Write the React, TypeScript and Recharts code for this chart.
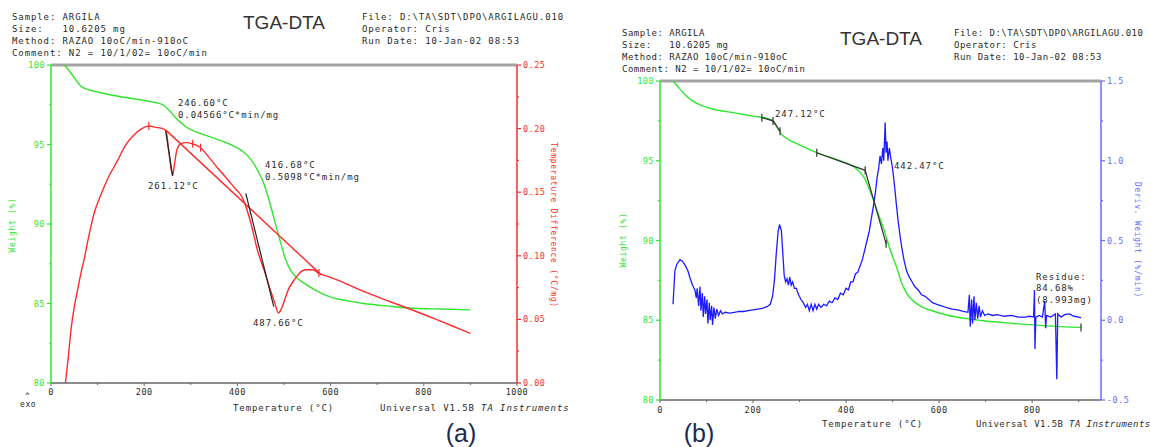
import React from 'react';
import { ComposedChart, Line, XAxis, YAxis, ReferenceLine } from 'recharts';

// ---------- panel (a): TGA (weight %) + DTA (°C/mg) ----------
const tgaA: number[][] = [
  [29, 100], [45, 99.4], [63, 98.7], [80, 98.45], [100, 98.3], [150, 98.0], [213, 97.7], [240, 97.5],
  [255, 97.1], [267, 96.7], [290, 96.1], [320, 95.7], [350, 95.4], [385, 95.0], [410, 94.6], [428, 94.1],
  [443, 93.4], [456, 92.6], [467, 91.6], [478, 90.4], [493, 88.8], [503, 87.8], [514, 87.1], [528, 86.6],
  [542, 86.3], [570, 85.8], [600, 85.4], [640, 85.15], [671, 85.0], [720, 84.85], [778, 84.7], [840, 84.65],
  [900, 84.6],
];
const dtaA: number[][] = [
  [31, 0.0], [37, 0.02], [43, 0.042], [50, 0.06], [57, 0.073], [64, 0.086], [71, 0.097], [82, 0.117],
  [93, 0.134], [107, 0.148], [121, 0.16], [143, 0.175], [160, 0.187], [178, 0.195], [195, 0.2], [210, 0.202],
  [225, 0.201], [240, 0.2], [247, 0.198], [252, 0.185], [257, 0.17], [261, 0.163], [265, 0.172], [270, 0.183],
  [278, 0.188], [290, 0.189], [304, 0.188], [321, 0.185], [340, 0.177], [360, 0.168], [379, 0.16], [395, 0.153],
  [407, 0.148], [414, 0.143], [428, 0.127], [443, 0.1045], [458, 0.088], [471, 0.073], [481, 0.062], [488, 0.055],
  [494, 0.058], [502, 0.066], [510, 0.074], [520, 0.08], [528, 0.084], [538, 0.088], [549, 0.089], [562, 0.089],
  [573, 0.0865], [600, 0.083], [640, 0.077], [671, 0.072], [720, 0.065], [771, 0.058], [820, 0.051], [860, 0.045],
  [900, 0.039],
];
const dtaBaseA: number[][] = [[246, 0.199], [580, 0.085]];
const onsetA1: number[][] = [[246, 0.198], [261, 0.163]];
const onsetA2: number[][] = [[418, 0.149], [478, 0.06]];
const dtaMarksA: number[][] = [[210, 0.202], [304, 0.188], [321, 0.185], [575, 0.0865]];

// ---------- panel (b): TGA (weight %) + DTG (%/min) ----------
const tgaB: number[][] = [
  [28, 100], [40, 99.6], [55, 99.1], [70, 98.75], [90, 98.45], [120, 98.2], [160, 98.0], [200, 97.8],
  [230, 97.65], [245, 97.45], [252, 97.1], [260, 96.7], [275, 96.35], [300, 96.0], [337, 95.5], [387, 95.0],
  [420, 94.55], [440, 93.9], [458, 92.6], [470, 91.6], [480, 90.8], [495, 89.4], [509, 88.3], [520, 87.3],
  [532, 86.6], [545, 86.2], [565, 85.8], [590, 85.55], [620, 85.3], [660, 85.1], [700, 84.95], [760, 84.8],
  [830, 84.65], [905, 84.55],
];
const dtgB: number[][] = [
  [28, 0.1], [32, 0.31], [36, 0.35], [43, 0.38], [48, 0.37], [53, 0.35], [60, 0.31], [65, 0.26], [70, 0.22],
  [75, 0.19], [78, 0.14], [80, 0.2], [83, 0.09], [86, 0.21], [88, 0.06], [91, 0.17], [93, 0.02], [96, 0.15],
  [98, 0.04], [101, 0.13], [103, -0.02], [106, 0.11], [108, 0.0], [111, 0.09], [113, -0.03], [116, 0.08],
  [119, 0.01], [122, 0.07], [126, 0.03], [130, 0.06], [134, 0.04], [140, 0.05], [150, 0.045], [160, 0.05],
  [170, 0.055], [180, 0.055], [190, 0.06], [200, 0.065], [210, 0.07], [220, 0.075], [230, 0.085], [237, 0.1],
  [242, 0.15], [246, 0.25], [250, 0.42], [254, 0.56], [257, 0.6], [261, 0.56], [264, 0.42], [267, 0.28],
  [270, 0.24], [273, 0.26], [276, 0.22], [279, 0.27], [282, 0.22], [285, 0.24], [289, 0.2], [293, 0.2],
  [298, 0.16], [303, 0.13], [308, 0.11], [313, 0.08], [317, 0.1], [321, 0.06], [325, 0.1], [329, 0.06],
  [333, 0.1], [337, 0.07], [341, 0.1], [346, 0.08], [352, 0.1], [358, 0.09], [364, 0.12], [370, 0.11],
  [376, 0.14], [382, 0.13], [388, 0.17], [394, 0.16], [400, 0.2], [405, 0.19], [410, 0.24], [415, 0.24],
  [420, 0.29], [425, 0.3], [430, 0.34], [435, 0.38], [440, 0.44], [445, 0.5], [450, 0.56], [455, 0.65],
  [459, 0.72], [463, 0.8], [467, 0.9], [470, 0.95], [473, 1.03], [476, 0.98], [479, 1.08], [481, 1.0],
  [483, 1.15], [484, 1.24], [486, 1.05], [488, 1.12], [490, 1.0], [493, 1.08], [496, 1.02], [499, 0.97],
  [502, 0.9], [505, 0.82], [508, 0.73], [512, 0.62], [516, 0.53], [520, 0.45], [525, 0.37], [530, 0.31],
  [536, 0.27], [542, 0.24], [548, 0.21], [555, 0.19], [562, 0.16], [570, 0.15], [578, 0.13], [586, 0.11],
  [595, 0.1], [605, 0.09], [615, 0.08], [628, 0.07], [640, 0.065], [652, 0.055], [662, 0.05], [665, 0.16],
  [667, -0.04], [670, 0.13], [672, -0.02], [675, 0.15], [677, 0.0], [680, 0.11], [683, 0.01], [686, 0.09],
  [689, 0.02], [693, 0.06], [698, 0.03], [705, 0.04], [715, 0.03], [725, 0.035], [740, 0.025], [755, 0.03],
  [770, 0.02], [785, 0.02], [795, 0.025], [803, 0.02], [805, 0.19], [806, -0.18], [808, 0.02], [815, 0.03],
  [822, 0.02], [827, 0.12], [829, -0.05], [831, 0.03], [840, 0.02], [850, 0.04], [853, -0.37], [855, 0.04],
  [862, 0.02], [870, 0.035], [880, 0.04], [890, 0.025], [900, 0.02], [905, 0.015],
];
const stepB1: number[][] = [[219, 97.7], [243, 97.5], [258, 96.85]];
const stepB2: number[][] = [[337, 95.5], [441, 94.4], [486, 89.8]];
const stepMarksB: number[][] = [[219, 97.7], [243, 97.5], [258, 96.85], [337, 95.5], [441, 94.4], [486, 89.8], [905, 84.55]];

// ticks
const xTicksA = [0, 100, 200, 300, 400, 500, 600, 700, 800, 900, 1000];
const xTicksB = [0, 100, 200, 300, 400, 500, 600, 700, 800, 900];
const weightTicks = [80, 82.5, 85, 87.5, 90, 92.5, 95, 97.5, 100];
const dtaTicks = [0, 0.025, 0.05, 0.075, 0.1, 0.125, 0.15, 0.175, 0.2, 0.225, 0.25];
const dtgTicks = [-0.5, -0.25, 0, 0.25, 0.5, 0.75, 1.0, 1.25, 1.5];

const headerLeft = ['Sample: ARGILA', 'Size:   10.6205 mg', 'Method: RAZAO 10oC/min-910oC', 'Comment: N2 = 10/1/02= 10oC/min'];
const headerRight = ['File: D:\\TA\\SDT\\DPO\\ARGILAGU.010', 'Operator: Cris', 'Run Date: 10-Jan-02 08:53'];

const GREEN = '#2fe62f';
const RED = '#ff2b2b';
const BLUE = '#1c1cff';
const BLUE_AXIS = '#6a6aff';
const INK = '#2a2a2a';
const MONO = '"DejaVu Sans Mono", monospace';

const pts = (rows: number[][], key: string) => rows.map(([t, v]) => ({ t, [key]: v }));

const isMajor = (v: number, step: number) => Math.abs(v / step - Math.round(v / step)) < 1e-6;

const makeYTick = (side: 'left' | 'right', color: string, step: number, digits: number) => (props: any) => {
  const { x, y, payload } = props;
  const v = payload.value as number;
  const major = isMajor(v, step);
  const dir = side === 'left' ? -1 : 1;
  return (
    <g>
      <line x1={x} x2={x + dir * (major ? 4 : 2)} y1={y} y2={y} stroke={color} strokeWidth={1.2} />
      {major && (
        <text x={x + dir * 6} y={y} dy={3} textAnchor={side === 'left' ? 'end' : 'start'} fill={color}
          fontSize={8.5} fontFamily={MONO} letterSpacing={0.5}>
          {digits > 0 ? v.toFixed(digits) : String(v)}
        </text>
      )}
    </g>
  );
};

const makeXTick = (dy: number) => (props: any) => {
  const { x, y, payload } = props;
  const v = payload.value as number;
  const major = isMajor(v, 200);
  return (
    <g>
      <line x1={x} x2={x} y1={y} y2={y + (major ? 3 : 2)} stroke="#666" strokeWidth={1} />
      {major && (
        <text x={x} y={y + dy} textAnchor="middle" fill={INK} fontSize={8.5} fontFamily={MONO} letterSpacing={0.5}>
          {v}
        </text>
      )}
    </g>
  );
};

const vMark = (color: string) => (p: any) => (
  <line key={`m-${p.index}`} x1={p.cx} x2={p.cx} y1={p.cy - 4} y2={p.cy + 4} stroke={color} strokeWidth={1.2} />
);

const Txt: React.FC<{ x: number; y: number; children: React.ReactNode; style?: React.CSSProperties }> = ({ x, y, children, style }) => (
  <div style={{ position: 'absolute', left: x, top: y - 6, fontFamily: MONO, fontSize: 9, letterSpacing: 0.9, lineHeight: '12px', whiteSpace: 'pre', color: INK, ...style }}>
    {children}
  </div>
);

const VTxt: React.FC<{ x: number; y: number; rot: number; color: string; children: React.ReactNode }> = ({ x, y, rot, color, children }) => (
  <div style={{ position: 'absolute', left: x, top: y, transform: `translate(-50%, -50%) rotate(${rot}deg)`, fontFamily: MONO, fontSize: 8, letterSpacing: 0.7, whiteSpace: 'pre', color }}>
    {children}
  </div>
);

const Header: React.FC<{ sx: number; tx: number; fx: number; dy: number; ls: number }> = ({ sx, tx, fx, dy, ls }) => (
  <>
    {headerLeft.map((s, i) => (
      <Txt key={s} x={sx} y={17 + dy + i * 12} style={{ letterSpacing: ls }}>{s}</Txt>
    ))}
    <div style={{ position: 'absolute', left: tx, top: 12 + dy, fontFamily: '"Liberation Sans", Arial, sans-serif', fontSize: 19, color: '#333', whiteSpace: 'pre' }}>TGA-DTA</div>
    {headerRight.map((s, i) => (
      <Txt key={s} x={fx} y={17 + dy + i * 12} style={{ letterSpacing: ls }}>{s}</Txt>
    ))}
  </>
);

const Footer: React.FC<{ cx: number; y: number; ux: number; ls: number }> = ({ cx, y, ux, ls }) => (
  <>
    <Txt x={cx - 50} y={y}>Temperature (°C)</Txt>
    <Txt x={ux} y={y} style={{ letterSpacing: ls }}>
      Universal V1.5B <i>TA Instruments</i>
    </Txt>
  </>
);

const App: React.FC = () => {
  return (
    <div style={{ position: 'absolute', left: 0, top: 0, width: 1151, height: 447, background: '#fff', overflow: 'hidden' }}>
      {/* panel (a) */}
      <div style={{ position: 'absolute', left: 0, top: 0 }}>
        <ComposedChart width={580} height={420} margin={{ top: 65, right: 23, bottom: 17, left: 21 }}>
          <XAxis dataKey="t" type="number" domain={[0, 1000]} ticks={xTicksA} interval={0} height={20}
            tickSize={0} tickMargin={0} tickLine={false} axisLine={{ stroke: '#666', strokeWidth: 1.5 }} tick={makeXTick(12)} />
          <YAxis yAxisId="w" orientation="left" type="number" domain={[80, 100]} ticks={weightTicks} interval={0} width={30}
            tickSize={0} tickMargin={0} tickLine={false} axisLine={{ stroke: GREEN, strokeWidth: 1.5 }} tick={makeYTick('left', GREEN, 5, 0)} />
          <YAxis yAxisId="d" orientation="right" type="number" domain={[0, 0.25]} ticks={dtaTicks} interval={0} width={40}
            tickSize={0} tickMargin={0} tickLine={false} axisLine={{ stroke: RED, strokeWidth: 1.5 }} tick={makeYTick('right', RED, 0.05, 2)} />
          <ReferenceLine yAxisId="w" y={100} stroke="#a3a3a3" strokeWidth={3} />
          <Line yAxisId="w" data={pts(tgaA, 'v')} dataKey="v" type="monotone" stroke={GREEN} strokeWidth={1.4} dot={false} isAnimationActive={false} />
          <Line yAxisId="d" data={pts(dtaBaseA, 'v')} dataKey="v" type="linear" stroke={RED} strokeWidth={1.4} dot={false} isAnimationActive={false} />
          <Line yAxisId="d" data={pts(dtaA, 'v')} dataKey="v" type="monotone" stroke={RED} strokeWidth={1.4} dot={false} isAnimationActive={false} />
          <Line yAxisId="d" data={pts(onsetA1, 'v')} dataKey="v" type="linear" stroke="#222" strokeWidth={1.2} dot={false} isAnimationActive={false} />
          <Line yAxisId="d" data={pts(onsetA2, 'v')} dataKey="v" type="linear" stroke="#222" strokeWidth={1.2} dot={false} isAnimationActive={false} />
          <Line yAxisId="d" data={pts(dtaMarksA, 'v')} dataKey="v" stroke="none" dot={vMark(RED)} isAnimationActive={false} />
        </ComposedChart>
      </div>

      {/* panel (b) */}
      <div style={{ position: 'absolute', left: 600, top: 0 }}>
        <ComposedChart width={551} height={440} margin={{ top: 81, right: 10, bottom: 20, left: 30 }}>
          <XAxis dataKey="t" type="number" domain={[0, 948]} ticks={xTicksB} interval={0} height={20}
            tickSize={0} tickMargin={0} tickLine={false} axisLine={{ stroke: '#666', strokeWidth: 1.5 }} tick={makeXTick(13)} />
          <YAxis yAxisId="w" orientation="left" type="number" domain={[80, 100]} ticks={weightTicks} interval={0} width={30}
            tickSize={0} tickMargin={0} tickLine={false} axisLine={{ stroke: GREEN, strokeWidth: 1.5 }} tick={makeYTick('left', GREEN, 5, 0)} />
          <YAxis yAxisId="g" orientation="right" type="number" domain={[-0.5, 1.5]} ticks={dtgTicks} interval={0} width={40}
            tickSize={0} tickMargin={0} tickLine={false} axisLine={{ stroke: BLUE_AXIS, strokeWidth: 1.5 }} tick={makeYTick('right', BLUE_AXIS, 0.5, 1)} />
          <ReferenceLine yAxisId="w" y={100} stroke="#a3a3a3" strokeWidth={3} />
          <Line yAxisId="w" data={pts(tgaB, 'v')} dataKey="v" type="monotone" stroke={GREEN} strokeWidth={1.4} dot={false} isAnimationActive={false} />
          <Line yAxisId="g" data={pts(dtgB, 'v')} dataKey="v" type="linear" stroke={BLUE} strokeWidth={1.3} dot={false} isAnimationActive={false} />
          <Line yAxisId="w" data={pts(stepB1, 'v')} dataKey="v" type="linear" stroke="#333" strokeWidth={1.2} dot={false} isAnimationActive={false} />
          <Line yAxisId="w" data={pts(stepB2, 'v')} dataKey="v" type="linear" stroke="#333" strokeWidth={1.2} dot={false} isAnimationActive={false} />
          <Line yAxisId="w" data={pts(stepMarksB, 'v')} dataKey="v" stroke="none" dot={vMark('#333')} isAnimationActive={false} />
        </ComposedChart>
      </div>

      {/* headers */}
      <Header sx={12} tx={243} fx={362} dy={0} ls={0.9} />
      <Header sx={622} tx={840} fx={954} dy={16} ls={0.5} />

      {/* panel (a) annotations */}
      <Txt x={178} y={103}>246.60°C</Txt>
      <Txt x={178} y={115}>0.04566°C*min/mg</Txt>
      <Txt x={148} y={186}>261.12°C</Txt>
      <Txt x={265} y={165}>416.68°C</Txt>
      <Txt x={265} y={177}>0.5098°C*min/mg</Txt>
      <Txt x={253} y={323}>487.66°C</Txt>
      <VTxt x={12} y={225} rot={-90} color={GREEN}>Weight (%)</VTxt>
      <VTxt x={553} y={225} rot={90} color={RED}>Temperature Difference (°C/mg)</VTxt>
      <Txt x={25} y={397} style={{ fontSize: 8 }}>^</Txt>
      <Txt x={20} y={405} style={{ fontSize: 8, letterSpacing: 0.6 }}>exo</Txt>
      <Footer cx={283} y={408} ux={380} ls={0.9} />

      {/* panel (b) annotations */}
      <Txt x={775} y={114}>247.12°C</Txt>
      <Txt x={894} y={166}>442.47°C</Txt>
      <Txt x={1036} y={277}>Residue:</Txt>
      <Txt x={1036} y={288}>84.68%</Txt>
      <Txt x={1036} y={300}>(8.993mg)</Txt>
      <VTxt x={623} y={240} rot={-90} color={GREEN}>Weight (%)</VTxt>
      <VTxt x={1137} y={240} rot={90} color={BLUE_AXIS}>Deriv. Weight (%/min)</VTxt>
      <Footer cx={872} y={424} ux={976} ls={0.4} />

      {/* panel captions */}
      <div style={{ position: 'absolute', left: 461, top: 433, transform: 'translate(-50%, -50%)', fontFamily: '"Liberation Sans", Arial, sans-serif', fontSize: 25, color: '#1b2a4e' }}>(a)</div>
      <div style={{ position: 'absolute', left: 699, top: 433, transform: 'translate(-50%, -50%)', fontFamily: '"Liberation Sans", Arial, sans-serif', fontSize: 25, color: '#1b2a4e' }}>(b)</div>
    </div>
  );
};

export default App;
